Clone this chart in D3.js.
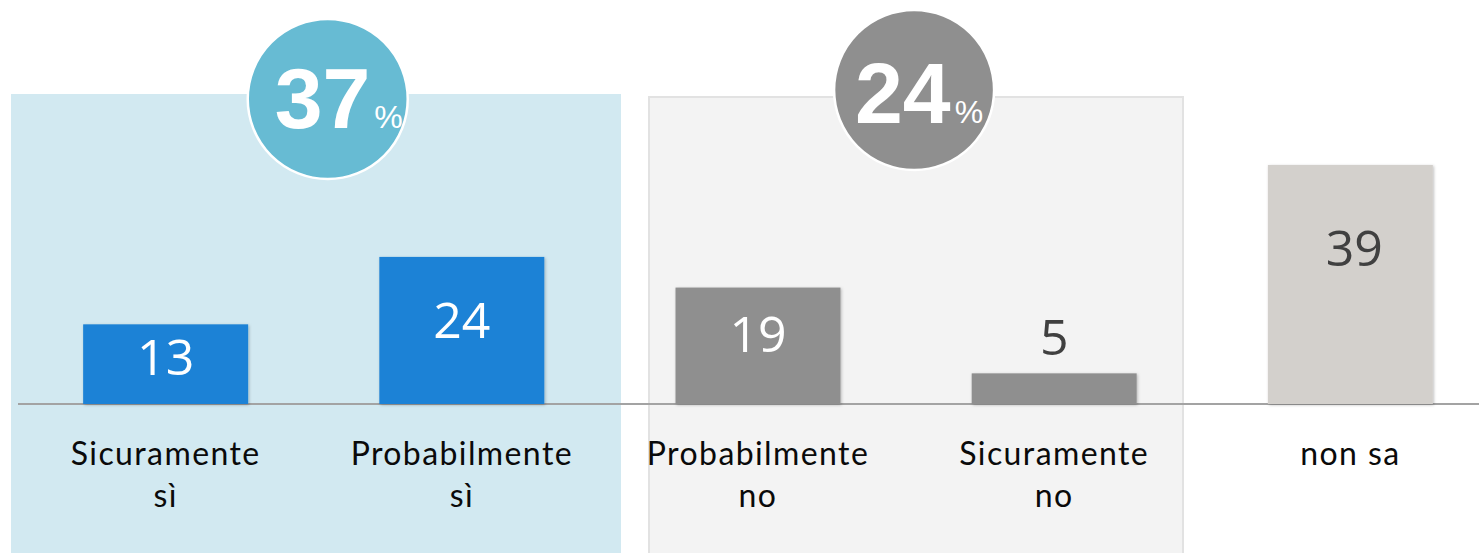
<!DOCTYPE html>
<html>
<head>
<meta charset="utf-8">
<script src="https://cdn.jsdelivr.net/npm/d3@7"></script>
<style>
  body { margin: 0; background: #fff; }
  svg { display: block; }
</style>
</head>
<body>
<div id="chart"></div>
<script>
// data
const categories = ["Sicuramente sì", "Probabilmente sì", "Probabilmente no", "Sicuramente no", "non sa"];
const labelLines = [["Sicuramente", "sì"], ["Probabilmente", "sì"], ["Probabilmente", "no"], ["Sicuramente", "no"], ["non sa"]];
const values = [13, 24, 19, 5, 39];
const groupNames = ["sì", "no"];
const groupTotals = [37, 24];
const groupMembers = [["Sicuramente sì", "Probabilmente sì"], ["Probabilmente no", "Sicuramente no"]];

const width = 1479, height = 553;
const baseY = 404;

const svg = d3.select("#chart").append("svg")
  .attr("width", width)
  .attr("height", height);

const defs = svg.append("defs");
const f = defs.append("filter").attr("id", "shadow")
  .attr("x", "-10%").attr("y", "-10%").attr("width", "120%").attr("height", "120%");
f.append("feDropShadow").attr("dx", 1).attr("dy", 1).attr("stdDeviation", 1.5)
  .attr("flood-color", "#000").attr("flood-opacity", 0.25);

const x = d3.scaleBand()
  .domain(categories)
  .range([18, 1498])
  .paddingInner(0.443)
  .paddingOuter(0.22);

const y = d3.scaleLinear()
  .domain([0, 39])
  .range([baseY, 165]);

// group panels
const panelStyle = [
  { x0: 11, x1: 621, top: 94, fill: "#d2e9f1", stroke: "none", circle: "#67bbd3", cy: 99, dx: 14, tdx: 11, tdy: 29 },
  { x0: 649, x1: 1183, top: 97, fill: "#f3f3f3", stroke: "#e2e2e2", circle: "#8f8f8f", cy: 90, dx: 8, tdx: 5, tdy: 33 }
];

groupNames.forEach((g, i) => {
  const p = panelStyle[i];
  svg.append("rect")
    .attr("x", p.x0).attr("y", p.top)
    .attr("width", p.x1 - p.x0).attr("height", height - p.top + 5)
    .attr("fill", p.fill)
    .attr("stroke", p.stroke)
    .attr("stroke-width", 2);
});

// baseline
svg.append("line")
  .attr("x1", 18).attr("x2", width)
  .attr("y1", baseY).attr("y2", baseY)
  .attr("stroke", "#a3a3a3")
  .attr("stroke-width", 2);

const barColor = d => d === "non sa" ? "#d3d0cc" : (categories.indexOf(d) < 2 ? "#1c82d6" : "#8f8f8f");

svg.selectAll("rect.bar")
  .data(categories)
  .join("rect")
  .attr("class", "bar")
  .attr("x", d => x(d))
  .attr("width", x.bandwidth())
  .attr("y", (d, i) => y(values[i]))
  .attr("height", (d, i) => baseY - y(values[i]))
  .attr("fill", barColor)
  .attr("filter", "url(#shadow)");

// value labels (baseline offset from bar top, as in the original)
const labelOffset = [51, 81, 64, -18, 101];
svg.selectAll("text.val")
  .data(categories)
  .join("text")
  .attr("class", "val")
  .attr("x", (d, i) => x(d) + x.bandwidth() / 2 + (i === 4 ? 4 : 0))
  .attr("y", (d, i) => y(values[i]) + labelOffset[i])
  .attr("text-anchor", "middle")
  .style("font-family", "'Open Sans', sans-serif")
  .style("font-size", "50px")
  .style("fill", (d, i) => (i === 3 || i === 4) ? "#404040" : "#fff")
  .text((d, i) => values[i]);

// category labels
categories.forEach((c, i) => {
  const t = svg.append("text")
    .attr("x", x(c) + x.bandwidth() / 2)
    .attr("y", 465)
    .attr("text-anchor", "middle")
    .style("font-family", "Lato, 'Open Sans', sans-serif")
    .style("font-size", "32px")
    .style("letter-spacing", "1.4px")
    .style("fill", "#0a0a0a");
  labelLines[i].forEach((l, j) => {
    t.append("tspan")
      .attr("x", x(c) + x.bandwidth() / 2)
      .attr("dy", j === 0 ? 0 : 42)
      .text(l);
  });
});

// total circles
groupNames.forEach((g, i) => {
  const p = panelStyle[i];
  const mem = groupMembers[i];
  const cx = (x(mem[0]) + x(mem[1]) + x.bandwidth()) / 2 + p.dx;
  svg.append("circle")
    .attr("cx", cx).attr("cy", p.cy).attr("r", 80)
    .attr("fill", p.circle)
    .attr("stroke", "#fff")
    .attr("stroke-width", 2.5);
  const t = svg.append("text")
    .attr("x", cx + p.tdx)
    .attr("y", p.cy + p.tdy)
    .attr("text-anchor", "middle")
    .style("font-family", "'Liberation Sans', Arial, sans-serif")
    .style("fill", "#fff");
  t.append("tspan")
    .style("font-size", "86px")
    .style("font-weight", "bold")
    .text(groupTotals[i]);
  t.append("tspan")
    .attr("dx", 4)
    .style("font-size", "32px")
    .text("%");
});
</script>
</body>
</html>
